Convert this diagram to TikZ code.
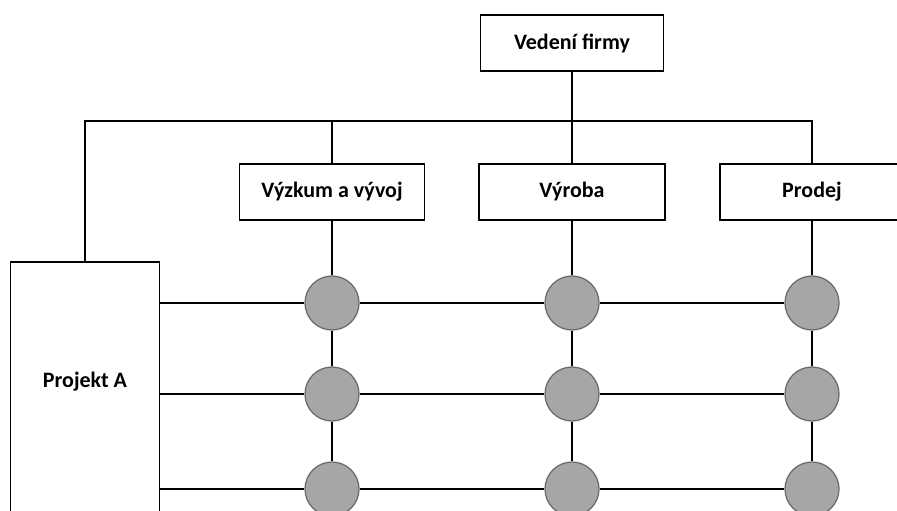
\documentclass[tikz,border=0pt]{standalone}
\usepackage{fontspec}
\setmainfont{Carlito}
\usetikzlibrary{positioning}

\begin{document}
\begin{tikzpicture}[x=1pt,y=-1pt,line width=1.9pt]

\tikzset{unit/.style={draw=black,fill=white,rectangle,minimum height=56pt,inner sep=0pt,font=\fontsize{22}{26}\selectfont\bfseries},
    cross/.style={circle,draw=gray!85!black,fill=gray!70,line width=1.3pt,minimum size=54pt,inner sep=0pt}}

\useasboundingbox (0,0) rectangle (897,511);
\clip (0,0) rectangle (897,511);

\coordinate (bus) at (0,121);

%% Management
\node[unit,minimum width=183pt] (vedeni) at (572,43) {Vedení firmy};

%% Departments
\node[unit,minimum width=185pt] (vyzkum) at (332,192) {Výzkum a vývoj};
\node[unit,minimum width=186pt] (vyroba) at (572,192) {Výroba};
\node[unit,minimum width=184pt] (prodej) at (812,192) {Prodej};

%% Project
\node[draw=black,rectangle,minimum width=149pt,minimum height=270pt,inner sep=0pt] (projekt) at (85,397) {};
\node[font=\fontsize{22}{26}\selectfont\bfseries] (projektlabel) at (85,382) {Projekt A};

%% Crossings
\foreach \r/\y in {1/303,2/394,3/489}{
    \foreach \c/\x in {1/332,2/572,3/812}{
        \node[cross] (c\r\c) at (\x,\y) {};
    }
}

%% Lines
\draw (vedeni.south) -- (vyroba.north);
\draw (projekt.north) -- (projekt.north |- bus) -| (prodej.north);
\draw (vyzkum.north) -- (vyzkum.north |- bus);

\foreach \c/\d in {1/vyzkum,2/vyroba,3/prodej}{
    \draw (\d) -- (c1\c) -- (c2\c) -- (c3\c);
}
\foreach \r in {1,2,3}{
    \draw (projekt.east |- c\r1) -- (c\r1) -- (c\r2) -- (c\r3);
}

\end{tikzpicture}
\end{document}
